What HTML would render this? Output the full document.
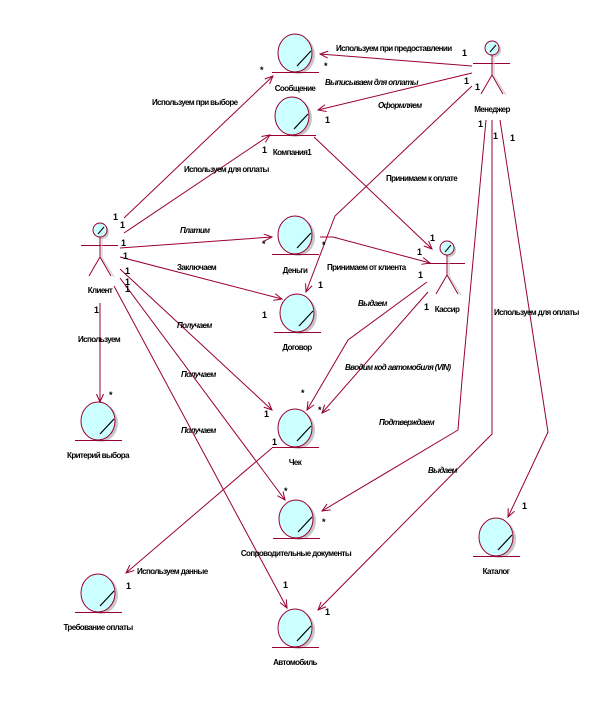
<!DOCTYPE html>
<html><head><meta charset="utf-8"><style>
html,body{margin:0;padding:0;background:#fff;}
svg{display:block;}
text{font-family:"Liberation Sans",sans-serif;font-size:8px;font-weight:bold;fill:#000;letter-spacing:-0.6px;}
.i{font-style:italic;}
.m{font-size:9px;letter-spacing:0;}
.l{stroke:#990033;stroke-width:1;fill:none;}
</style></head><body>
<svg width="607" height="721" viewBox="0 0 607 721" xmlns="http://www.w3.org/2000/svg">
<defs>
<marker id="a" markerWidth="10" markerHeight="10" refX="9" refY="5" orient="auto" markerUnits="userSpaceOnUse">
<polyline points="1,1.5 9,5 1,8.5" fill="none" stroke="#990033" stroke-width="1"/>
</marker>
<g id="o">
<ellipse cx="3" cy="2" rx="17" ry="19" fill="#c8c8c8"/>
<ellipse cx="0" cy="0" rx="17" ry="19" fill="#ccffff" stroke="#990033" stroke-width="1"/>
<line x1="2" y1="13" x2="16" y2="-2" stroke="#000" stroke-width="1.2"/>
<line x1="-23" y1="19.5" x2="24" y2="19.5" stroke="#990033" stroke-width="1"/>
</g>
<g id="act">
<circle cx="2" cy="2" r="7" fill="#c8c8c8"/>
<circle cx="0" cy="0" r="7" fill="#ccffff" stroke="#990033"/>
<line x1="-2" y1="4" x2="4" y2="-3" stroke="#000"/>
<line x1="-19" y1="15.5" x2="18" y2="15.5" stroke="#990033"/>
<line x1="2" y1="8" x2="2" y2="28" stroke="#c8c8c8"/>
<line x1="0" y1="7" x2="0" y2="27" stroke="#990033"/>
<line x1="2" y1="28" x2="14" y2="47" stroke="#c8c8c8"/>
<line x1="0" y1="27" x2="-11" y2="46" stroke="#990033"/>
<line x1="0" y1="27" x2="11" y2="46" stroke="#990033"/>
</g>
</defs>

<use href="#o" x="295" y="53"/>
<use href="#o" x="292" y="116"/>
<use href="#o" x="295" y="235"/>
<use href="#o" x="297" y="313"/>
<use href="#o" x="295" y="428"/>
<use href="#o" x="98" y="421"/>
<use href="#o" x="296" y="519"/>
<use href="#o" x="496" y="537"/>
<use href="#o" x="98" y="593"/>
<use href="#o" x="295" y="628"/>

<use href="#act" x="100" y="230"/>
<use href="#act" x="492" y="48"/>
<use href="#act" x="447" y="248"/>

<line class="l" x1="124" y1="218" x2="273" y2="76" marker-end="url(#a)"/>
<line class="l" x1="124" y1="233" x2="270" y2="135" marker-end="url(#a)"/>
<line class="l" x1="120" y1="248" x2="272" y2="237" marker-end="url(#a)"/>
<line class="l" x1="120" y1="257" x2="282" y2="299" marker-end="url(#a)"/>
<line class="l" x1="120" y1="269" x2="272" y2="410" marker-end="url(#a)"/>
<line class="l" x1="120" y1="278" x2="285" y2="500" marker-end="url(#a)"/>
<line class="l" x1="114" y1="286" x2="287" y2="608" marker-end="url(#a)"/>
<line class="l" x1="100" y1="303" x2="100" y2="402" marker-end="url(#a)"/>
<line class="l" x1="472" y1="66" x2="320" y2="54" marker-end="url(#a)"/>
<line class="l" x1="472" y1="73" x2="318" y2="110" marker-end="url(#a)"/>
<polyline class="l" points="472,86 335,216 306,292" marker-end="url(#a)"/>
<line class="l" x1="314" y1="137" x2="432" y2="249" marker-end="url(#a)"/>
<polyline class="l" points="320,237 333,237 430,263" marker-end="url(#a)"/>
<polyline class="l" points="427,282 348,340 307,410" marker-end="url(#a)"/>
<line class="l" x1="428" y1="292" x2="322" y2="413" marker-end="url(#a)"/>
<polyline class="l" points="486,120 462,380 458,430 322,511" marker-end="url(#a)"/>
<polyline class="l" points="492,120 492,434 318,610" marker-end="url(#a)"/>
<polyline class="l" points="500,120 548,432 508,517" marker-end="url(#a)"/>
<line class="l" x1="272" y1="448" x2="126" y2="573" marker-end="url(#a)"/>

<text x="295" y="91" text-anchor="middle">Сообщение</text>
<text x="292" y="155" text-anchor="middle">Компания1</text>
<text x="295" y="273" text-anchor="middle">Деньги</text>
<text x="297" y="350" text-anchor="middle">Договор</text>
<text x="295" y="465" text-anchor="middle">Чек</text>
<text x="98" y="458" text-anchor="middle">Критерий выбора</text>
<text x="296" y="556" text-anchor="middle">Сопроводительные документы</text>
<text x="496" y="574" text-anchor="middle">Каталог</text>
<text x="98" y="630" text-anchor="middle">Требование оплаты</text>
<text x="295" y="665" text-anchor="middle">Автомобиль</text>
<text x="100" y="293" text-anchor="middle">Клиент</text>
<text x="492" y="112" text-anchor="middle">Менеджер</text>
<text x="447" y="312" text-anchor="middle">Кассир</text>

<text x="152" y="105">Используем при выборе</text>
<text x="184" y="172">Используем для оплаты</text>
<text x="180" y="233" class="i">Платим</text>
<text x="177" y="270">Заключаем</text>
<text x="177" y="328" class="i">Получаем</text>
<text x="181" y="377" class="i">Получаем</text>
<text x="181" y="433" class="i">Получаем</text>
<text x="78" y="342">Используем</text>
<text x="336" y="51">Используем при предоставлении</text>
<text x="325" y="85" class="i">Выписываем для оплаты</text>
<text x="378" y="108" class="i">Оформляем</text>
<text x="386" y="181">Принимаем к оплате</text>
<text x="327" y="270">Принимаем от клиента</text>
<text x="358" y="306" class="i">Выдаем</text>
<text x="345" y="370" class="i">Вводим код автомобиля (VIN)</text>
<text x="379" y="425" class="i">Подтверждаем</text>
<text x="428" y="473" class="i">Выдаем</text>
<text x="494" y="315">Используем для оплаты</text>
<text x="137" y="574">Используем данные</text>

<g class="m">
<text x="113" y="220" class="m">1</text><text x="120" y="228" class="m">1</text>
<text x="121" y="246" class="m">1</text><text x="123" y="259" class="m">1</text>
<text x="125" y="274" class="m">1</text><text x="125" y="285" class="m">1</text>
<text x="125" y="292" class="m">1</text><text x="94" y="313" class="m">1</text>
<text x="260" y="73" class="m">*</text><text x="324" y="69" class="m">*</text>
<text x="262" y="153" class="m">1</text><text x="325" y="123" class="m">1</text>
<text x="262" y="247" class="m">*</text><text x="322" y="248" class="m">*</text>
<text x="318" y="288" class="m">1</text><text x="262" y="318" class="m">1</text>
<text x="462" y="56" class="m">1</text><text x="464" y="84" class="m">1</text>
<text x="475" y="90" class="m">1</text><text x="478" y="127" class="m">1</text>
<text x="493" y="139" class="m">1</text><text x="510" y="141" class="m">1</text>
<text x="430" y="241" class="m">1</text><text x="417" y="255" class="m">1</text>
<text x="418" y="278" class="m">1</text><text x="424" y="310" class="m">1</text>
<text x="109" y="398" class="m">*</text>
<text x="264" y="417" class="m">1</text><text x="272" y="445" class="m">1</text>
<text x="301" y="396" class="m">*</text><text x="318" y="413" class="m">*</text>
<text x="284" y="494" class="m">*</text><text x="322" y="525" class="m">*</text>
<text x="522" y="509" class="m">1</text>
<text x="126" y="589" class="m">1</text>
<text x="283" y="588" class="m">1</text><text x="325" y="615" class="m">1</text>
</g>
</svg>
</body></html>
